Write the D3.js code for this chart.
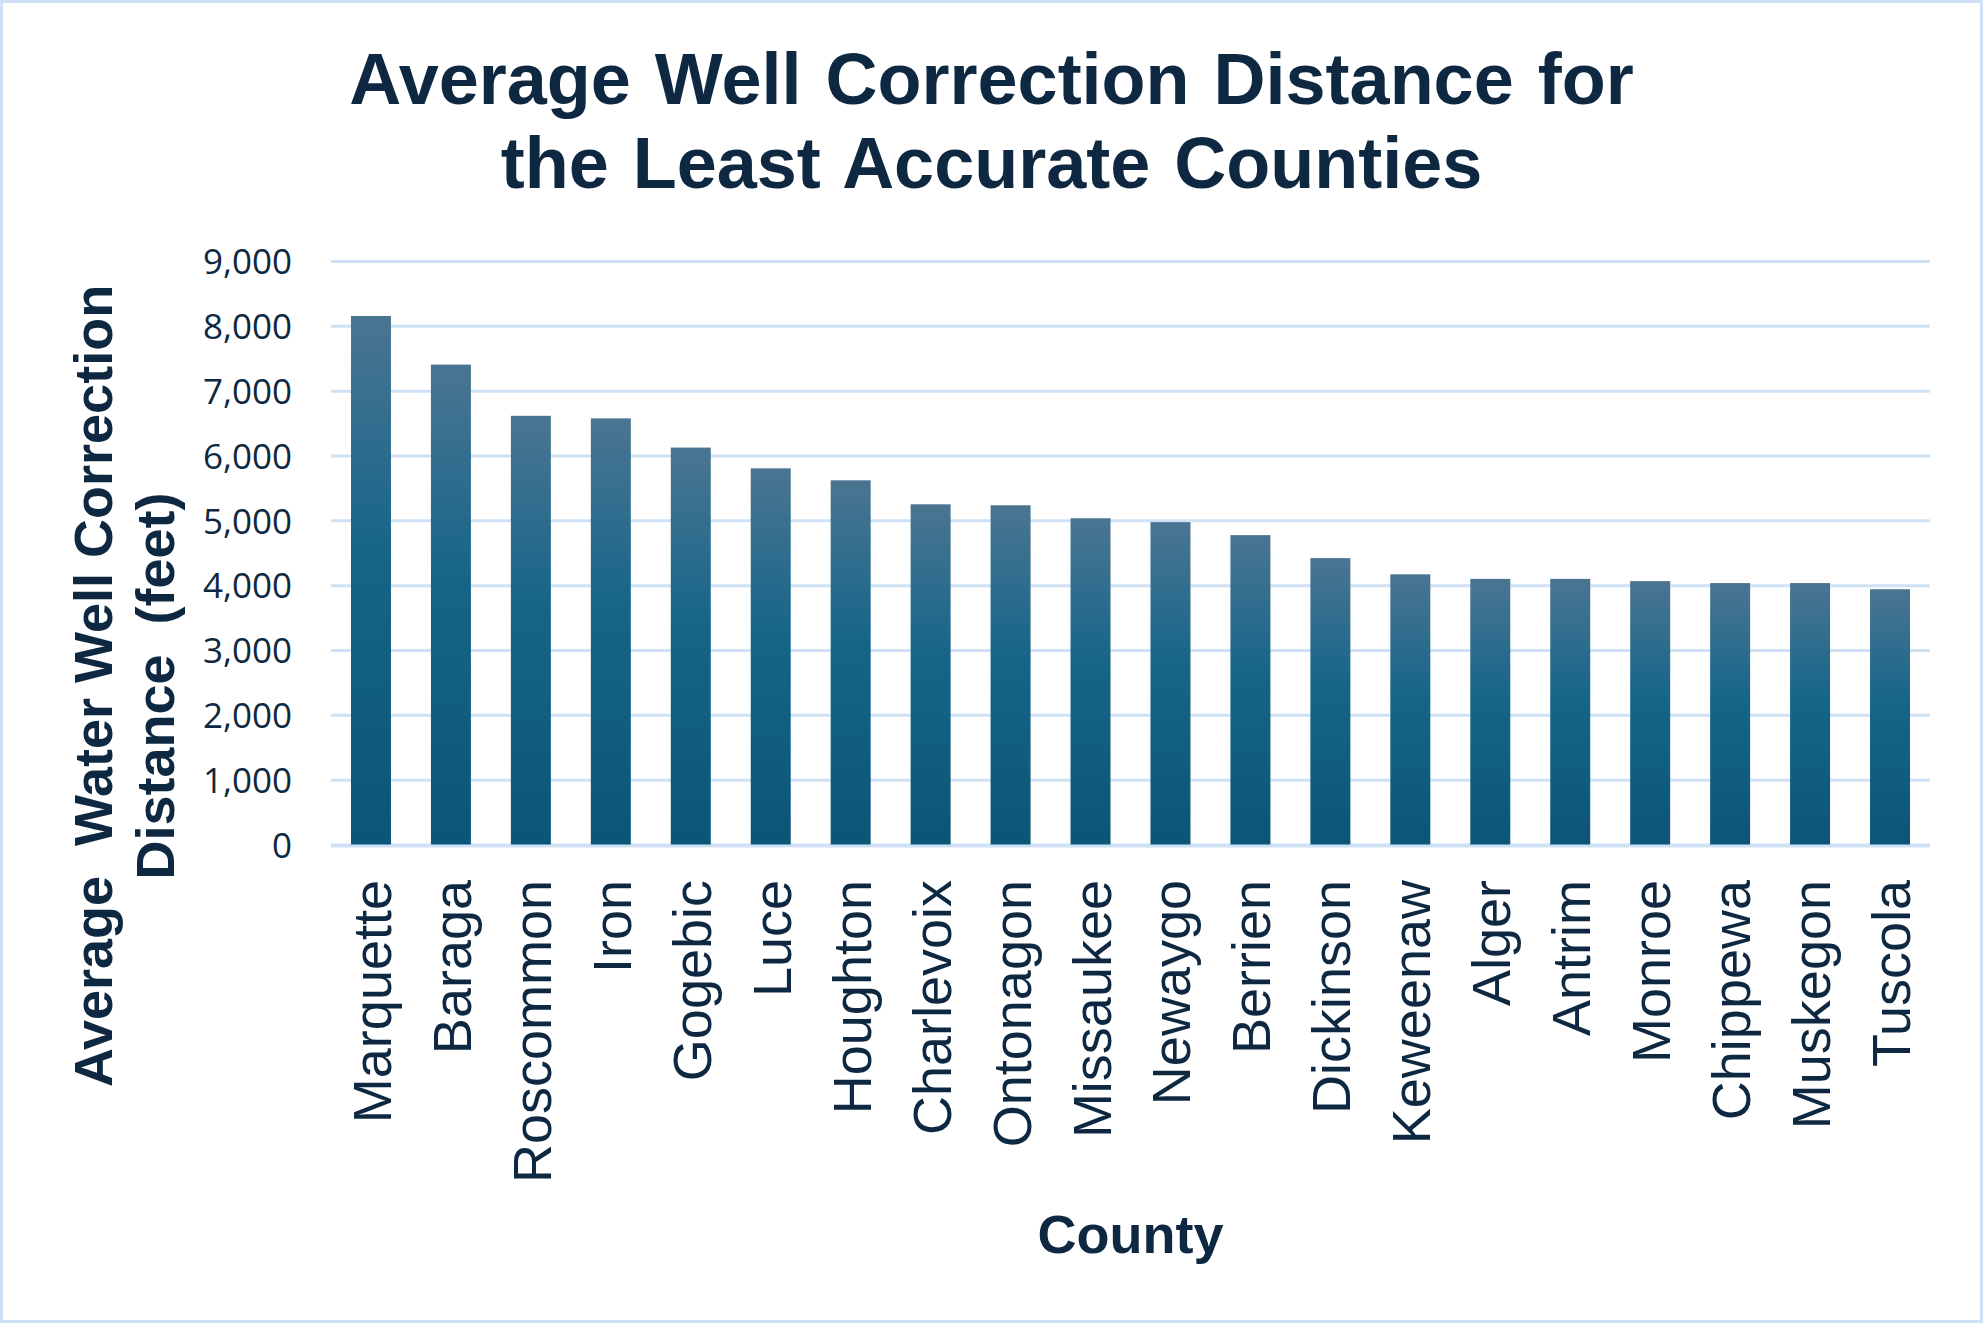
<!DOCTYPE html>
<html lang="en">
<head>
    <meta charset="utf-8">
    <title>Average Well Correction Distance</title>
    <script src="https://cdn.jsdelivr.net/npm/d3@7"></script>
</head>
<style>
    body {
        margin: 0;
        padding: 0;
        background-color: #ffffff;
    }
    .chart-title {
        font-family: "Liberation Sans", Arial, sans-serif;
        font-weight: bold;
        font-size: 72px;
        fill: #0e2841;
        text-anchor: middle;
        word-spacing: 4px;
    }
    .axis-title {
        font-family: "Liberation Sans", Arial, sans-serif;
        font-weight: bold;
        font-size: 54px;
        fill: #0e2841;
        text-anchor: middle;
        white-space: pre;
    }
    .y-axis text {
        font-family: "Open Sans", sans-serif;
        font-size: 35px;
        fill: #0e2841;
    }
    .x-axis text {
        font-family: "Liberation Sans", Arial, sans-serif;
        font-size: 54px;
        fill: #0e2841;
    }
</style>
<body>
    <svg width="1983" height="1323" id="chart"></svg>
    <script>
        // data
        var counties = ["Marquette", "Baraga", "Roscommon", "Iron", "Gogebic", "Luce", "Houghton",
            "Charlevoix", "Ontonagon", "Missaukee", "Newaygo", "Berrien", "Dickinson", "Keweenaw",
            "Alger", "Antrim", "Monroe", "Chippewa", "Muskegon", "Tuscola"];
        var distances = [8160, 7410, 6620, 6580, 6130, 5810, 5625, 5255, 5240, 5040,
            4980, 4780, 4425, 4175, 4105, 4105, 4070, 4040, 4040, 3945];
        var yTicks = [0, 1000, 2000, 3000, 4000, 5000, 6000, 7000, 8000, 9000];

        var data = counties.map(function (c, i) { return { county: c, value: distances[i] }; });

        var svg = d3.select("#chart"),
            W = +svg.attr("width"),
            H = +svg.attr("height"),
            margin = { top: 261.5, right: 53, bottom: 478, left: 331 },
            width = W - margin.left - margin.right,
            height = H - margin.top - margin.bottom;

        // light blue frame
        svg.append("rect")
            .attr("x", 1.5).attr("y", 1.5)
            .attr("width", W - 3).attr("height", H - 3)
            .attr("fill", "#ffffff")
            .attr("stroke", "#cfe2f5")
            .attr("stroke-width", 3);

        var defs = svg.append("defs");
        var grad = defs.append("linearGradient")
            .attr("id", "barGrad")
            .attr("x1", 0).attr("y1", 0).attr("x2", 0).attr("y2", 1);
        grad.append("stop").attr("offset", "0%").attr("stop-color", "#4a7592");
        grad.append("stop").attr("offset", "45%").attr("stop-color", "#156589");
        grad.append("stop").attr("offset", "100%").attr("stop-color", "#0b5577");

        var g = svg.append("g").attr("transform", "translate(" + margin.left + "," + margin.top + ")");

        var x = d3.scaleBand()
            .domain(counties)
            .range([0, width])
            .paddingInner(0.5)
            .paddingOuter(0.25);

        var y = d3.scaleLinear()
            .domain([0, 9000])
            .range([height, 0]);

        // gridlines
        g.append("g")
            .selectAll("line")
            .data(yTicks)
            .enter().append("line")
            .attr("x1", 0).attr("x2", width)
            .attr("y1", function (d) { return y(d); })
            .attr("y2", function (d) { return y(d); })
            .attr("stroke", "#cfe2f5")
            .attr("stroke-width", 3);

        g.selectAll(".bar")
            .data(data)
            .enter().append("rect")
            .attr("class", "bar")
            .attr("x", function (d) { return x(d.county); })
            .attr("y", function (d) { return y(d.value); })
            .attr("width", x.bandwidth())
            .attr("height", function (d) { return y(0) - y(d.value); })
            .attr("fill", "url(#barGrad)");

        // baseline on top of bars
        g.append("line")
            .attr("x1", 0).attr("x2", width)
            .attr("y1", y(0) + 1).attr("y2", y(0) + 1)
            .attr("stroke", "#cfe2f5")
            .attr("stroke-width", 3);

        // y axis
        var yAxis = g.append("g")
            .attr("class", "y-axis")
            .call(d3.axisLeft(y).tickValues(yTicks).tickFormat(d3.format(",")).tickSize(0).tickPadding(39));
        yAxis.select(".domain").remove();
        yAxis.selectAll("text").attr("dy", "0.35em");

        // x axis, labels rotated
        var xAxis = g.append("g")
            .attr("class", "x-axis")
            .attr("transform", "translate(0," + height + ")")
            .call(d3.axisBottom(x).tickSize(0));
        xAxis.select(".domain").remove();
        xAxis.selectAll("text")
            .attr("transform", "translate(0,35) rotate(-90)")
            .attr("x", 0)
            .attr("y", 0)
            .attr("dy", "0.37em")
            .style("text-anchor", "end");

        // Chart Title
        svg.append("text").attr("class", "chart-title")
            .attr("x", W / 2).attr("y", 104)
            .text("Average Well Correction Distance for");
        svg.append("text").attr("class", "chart-title")
            .attr("x", W / 2).attr("y", 188)
            .text("the Least Accurate Counties");

        // X-axis Title
        svg.append("text").attr("class", "axis-title")
            .attr("x", margin.left + width / 2)
            .attr("y", 1253)
            .text("County");

        // Y-axis Title (two lines)
        svg.append("text").attr("class", "axis-title")
            .attr("transform", "translate(112,686) rotate(-90)")
            .text("Average  Water Well Correction");
        svg.append("text").attr("class", "axis-title")
            .attr("transform", "translate(174,686) rotate(-90)")
            .text("Distance  (feet)");
    </script>
</body>
</html>
